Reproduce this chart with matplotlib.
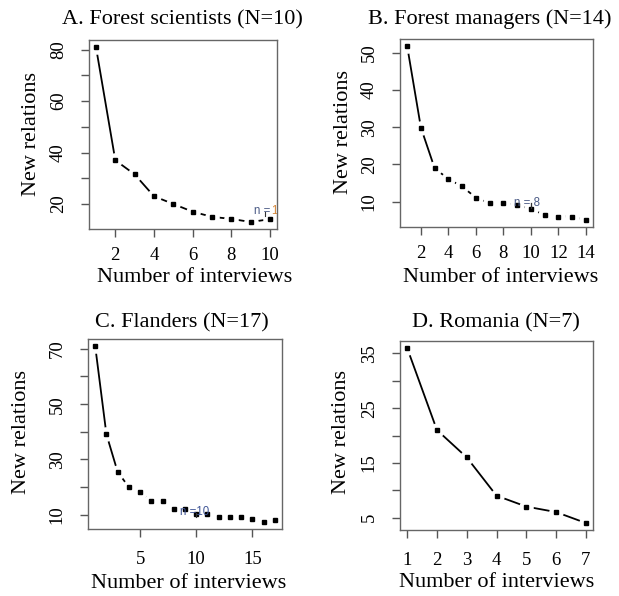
import numpy as np
import matplotlib.pyplot as plt

plt.rcParams['font.family'] = ['Liberation Serif', 'DejaVu Serif']

# new relations per additional interview
a_y = [81, 37, 31.5, 23, 20, 17, 15, 14.2, 13, 14.1]
b_y = [51.8, 29.9, 19, 16.1, 14.1, 11.1, 9.6, 9.6, 9.2, 8, 6.5, 6, 6, 5.1]
c_y = [71, 39.1, 25.5, 20, 18.2, 15.1, 15.1, 12.1, 12.1, 10.4, 10.4,
       9.1, 9.1, 9.1, 8.3, 7.4, 8.2]
d_y = [36, 21, 16, 9, 7, 6, 4]

titles = ['A. Forest scientists (N=10)', 'B. Forest managers (N=14)',
          'C. Flanders (N=17)', 'D. Romania (N=7)']
xticks = [[2, 4, 6, 8, 10], [2, 4, 6, 8, 10, 12, 14], [5, 10, 15],
          [1, 2, 3, 4, 5, 6, 7]]
yticks = [[20, 30, 40, 50, 60, 70, 80], [10, 20, 30, 40, 50],
          [10, 20, 30, 40, 50, 60, 70], [5, 10, 15, 20, 25, 30, 35]]
ylabs = [[20, 40, 60, 80], [10, 20, 30, 40, 50], [10, 30, 50, 70],
         [5, 15, 25, 35]]

W, H = 619, 596
# pixel boxes (left, top, right, bottom) of each panel
boxes = [(89, 40, 277, 229), (400, 39, 593, 227),
         (88, 339, 282, 529), (400, 341, 593, 530)]
title_pos = [(182, 24), (490, 24), (182, 327), (496, 327)]
xlab_pos = [(195, 282), (501, 282), (189, 588), (497, 587)]
ylab_pos = [(32, 134), (344, 132), (22, 432), (342, 432)]
xpad = [7, 7, 10, 10]

fig = plt.figure(figsize=(W / 100, H / 100), dpi=100)

def rlim(v):
    lo, hi = min(v), max(v)
    d = (hi - lo) * 0.04
    return lo - d, hi + d

axes = []
for i, yv in enumerate([a_y, b_y, c_y, d_y]):
    l, t, r, b = boxes[i]
    ax = fig.add_axes([l / W, 1 - b / H, (r - l) / W, (b - t) / H])
    x = np.arange(1, len(yv) + 1)
    ax.plot(x, yv, '-', color='black', lw=1.3, zorder=1)
    ax.plot(x, yv, 'o', ms=10.5, mfc='white', mec='none', zorder=2)
    ax.plot(x, yv, 's', ms=3.3, color='black', zorder=3)
    ax.set_xlim(rlim(x))
    ax.set_ylim(rlim(yv))
    ax.set_xticks(xticks[i])
    ax.set_yticks(yticks[i])
    ax.set_yticklabels([str(v) if v in ylabs[i] else '' for v in yticks[i]],
                       rotation=90, va='center')
    ax.tick_params(axis='x', labelsize=13.5, length=6, width=1, color='#555555',
                   pad=xpad[i])
    ax.tick_params(axis='y', labelsize=13.5, length=6, width=1, color='#555555',
                   pad=10)
    for s in ax.spines.values():
        s.set_color('#666666')
        s.set_linewidth(1)
    tx, ty = title_pos[i]
    fig.text(tx / W, 1 - ty / H, titles[i], fontsize=16, ha='center', va='baseline')
    lx, ly = xlab_pos[i]
    fig.text(lx / W, 1 - ly / H, 'Number of interviews', fontsize=16,
             ha='center', va='baseline')
    qx, qy = ylab_pos[i]
    fig.text(qx / W, 1 - qy / H, 'New relations', fontsize=16, rotation=90,
             ha='center', va='center')
    axes.append(ax)

# small "n =" notes from the original figure
ann = dict(fontsize=8.3, family=['Liberation Sans', 'DejaVu Sans'], zorder=4,
           va='baseline')
axes[0].text(9.17, 16.1, 'n =', color='#4a5a85', clip_on=True, **ann)
axes[0].text(10.05, 16.1, '1', color='#d4873a', clip_on=True, **ann)
axes[0].plot([9.74, 9.74], [15.4, 16.9], color='#333333', lw=0.8, zorder=4)
axes[1].text(8.77, 8.8, 'n = 8', color='#4a5a85', **ann)
axes[1].plot([10, 10], [8.2, 9.6], color='#333333', lw=0.9, zorder=4)
axes[2].text(8.55, 9.9, 'n =10', color='#3f5596', **ann)
axes[2].plot([10, 10], [9.2, 10.6], color='#333333', lw=0.8, zorder=4)

fig.savefig('out.png', dpi=100)
